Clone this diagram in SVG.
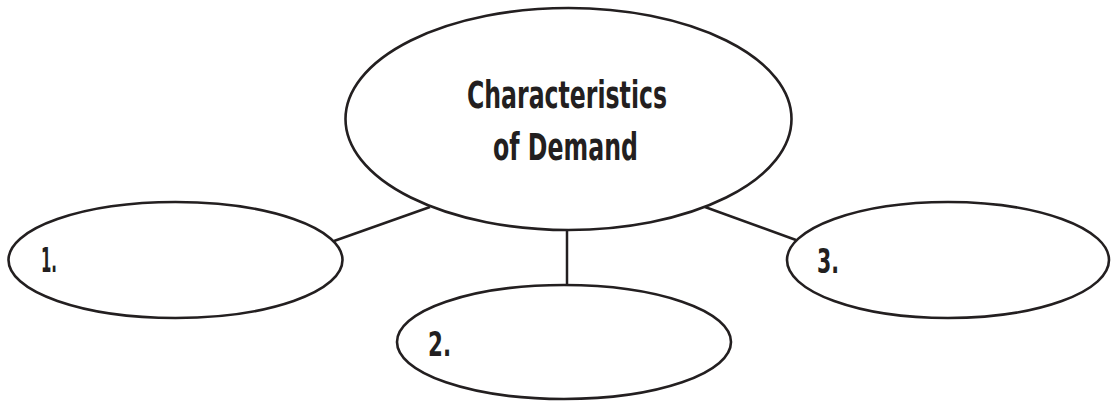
<svg xmlns="http://www.w3.org/2000/svg" width="1112" height="401" viewBox="0 0 1112 401">
  <style>
    .bubble { fill: #ffffff; stroke: #231f20; stroke-width: 2.6; }
    .link { stroke: #231f20; stroke-width: 2.5; fill: none; }
    .label { font-family: "DejaVu Sans Condensed", "Liberation Sans", sans-serif; font-weight: bold; fill: #231f20; }
    .title { font-size: 37px; }
    .num { font-size: 34px; }
  </style>
  <rect width="1112" height="401" fill="#ffffff"/>

  <!-- connectors between the central bubble and the three numbered bubbles -->
  <g id="connectors">
    <line class="link" x1="430" y1="207" x2="334" y2="241"/>
    <line class="link" x1="567" y1="229" x2="567" y2="285"/>
    <line class="link" x1="705" y1="207" x2="796" y2="240"/>
  </g>

  <g id="central">
    <ellipse class="bubble" cx="568.5" cy="119" rx="223" ry="111"/>
    <text class="label title" x="467" y="108" textLength="200" lengthAdjust="spacingAndGlyphs">Characteristics</text>
    <text class="label title" x="493" y="160" textLength="145" lengthAdjust="spacingAndGlyphs">of Demand</text>
  </g>

  <g id="item1">
    <ellipse class="bubble" cx="175.5" cy="260" rx="167" ry="58"/>
    <text class="label num" x="41" y="272" textLength="16" lengthAdjust="spacingAndGlyphs">1.</text>
  </g>

  <g id="item2">
    <ellipse class="bubble" cx="564" cy="342" rx="167" ry="57"/>
    <text class="label num" x="428" y="356" textLength="23" lengthAdjust="spacingAndGlyphs">2.</text>
  </g>

  <g id="item3">
    <ellipse class="bubble" cx="948" cy="260" rx="161" ry="58"/>
    <text class="label num" x="817" y="273" textLength="22" lengthAdjust="spacingAndGlyphs">3.</text>
  </g>
</svg>
